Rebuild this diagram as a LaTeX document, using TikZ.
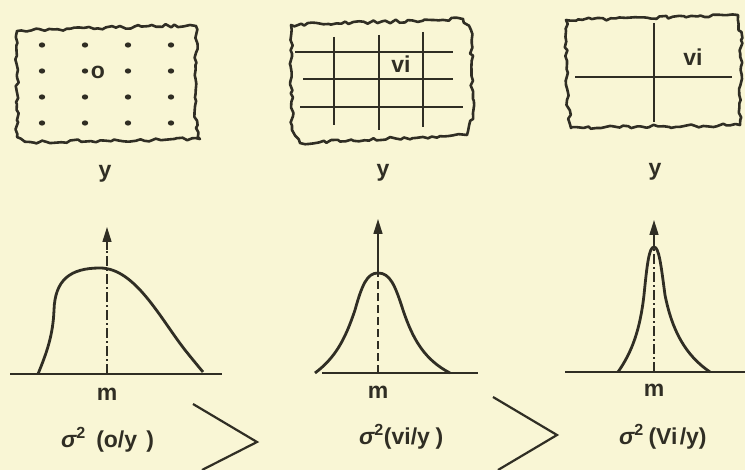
\documentclass[tikz,border=0pt]{standalone}
\usepackage{fontspec}
\setmainfont{Liberation Sans}
\usetikzlibrary{decorations.pathmorphing,arrows.meta}
\definecolor{paper}{RGB}{249,246,213}
\definecolor{ink}{RGB}{48,46,36}
\begin{document}
\begin{tikzpicture}[x=1pt,y=-1pt,
  lbl/.style={text=ink,font=\fontsize{23}{26}\selectfont\bfseries,inner sep=0pt},
  wavy/.style={draw=ink,line width=2.6pt,line join=round,decorate,
    decoration={random steps,segment length=4.5pt,amplitude=1.7pt}},
  grid/.style={draw=ink,line width=1.7pt},
  dotc/.style={fill=ink},
  base/.style={draw=ink,line width=1.6pt},
  curve/.style={draw=ink,line width=2.8pt},
  axisdd/.style={draw=ink,line width=1.5pt,dash pattern=on 10pt off 3pt on 2pt off 3pt},
  axisd/.style={draw=ink,line width=1.6pt,dash pattern=on 8pt off 4pt},
  tip/.style={-{Triangle[length=15pt,width=9pt]}},
  gt/.style={draw=ink,line width=2.2pt}]
\pgfmathsetseed{7}
\fill[paper] (0,0) rectangle (745,470);
\useasboundingbox (0,0) rectangle (745,470);

% ---------- panel 1 ----------
\begin{scope}[shift={(17,25)}]
\draw[wavy] (0,6) -- (173,0) -- (179,1) -- (179,103) -- (183,114) -- (13,117) -- (0,112) -- cycle;
\end{scope}
\foreach \xx in {42,85,128,171}
  \foreach \yy in {45,71,97,123}
    \fill[dotc] (\xx,\yy) ellipse (3.2pt and 2.6pt);
\node[lbl] (o1) at (98,72) {o};
\node[lbl] (y1) at (105,174) {y};

% ---------- panel 2 ----------
\begin{scope}[shift={(291,19)}]
\draw[wavy] (0,6) -- (172,0) -- (180,11) -- (182,94) -- (176,116) -- (9,124) -- (1,111) -- cycle;
\end{scope}
\draw[grid] (295,52) -- (453,52);
\draw[grid] (303,79) -- (453,79);
\draw[grid] (300,107) -- (463,107);
\draw[grid] (334,37) -- (334,125);
\draw[grid] (379,35) -- (379,130);
\draw[grid] (423,32) -- (423,127);
\node[lbl] (v2) at (401,64) {vi};
\node[lbl] (y2) at (383,173) {y};

% ---------- panel 3 ----------
\begin{scope}[shift={(566,15)}]
\draw[wavy] (0,5) -- (172,0) -- (175,25) -- (174,110) -- (5,113) -- (1,85) -- cycle;
\end{scope}
\draw[grid] (654,23) -- (654,122);
\draw[grid] (575,77) -- (732,77);
\node[lbl] (v3) at (693,57) {vi};
\node[lbl] (y3) at (655,172) {y};

% ---------- curve 1 ----------
\draw[base] (10,374) -- (222,374);
\draw[axisdd] (107,374) -- (107,247);
\draw[ink,line width=1.5pt,tip] (107,250) -- (107,227);
\draw[curve] (38,374) .. controls (47,352) and (53,335) .. (54,310)
  .. controls (55,280) and (70,268) .. (100,268)
  .. controls (135,268) and (160,318) .. (185,350)
  .. controls (193,360) and (198,366) .. (203,372);
\node[lbl] (m1) at (107,394) {m};
\node[lbl,anchor=west] (s1) at (61,440) {\itshape σ\textsuperscript{\upshape 2}\hspace{0.45em}\upshape (o/y\hspace{0.4em})};

% ---------- curve 2 ----------
\draw[base] (322,373) -- (478,373);
\draw[axisd] (378,373) -- (378,275);
\draw[ink,line width=1.6pt,tip] (378,275) -- (378,219);
\draw[curve] (315,373) .. controls (335,358) and (345,340) .. (355,310)
  .. controls (362,285) and (367,273) .. (378,273)
  .. controls (390,273) and (395,285) .. (403,310)
  .. controls (413,340) and (425,360) .. (450,373);
\node[lbl] (m2) at (378,392) {m};
\node[lbl,anchor=west] (s2) at (359,437) {\itshape σ\textsuperscript{\upshape 2}\upshape (vi/y\hspace{0.25em})};

% ---------- curve 3 ----------
\draw[base] (565,372) -- (745,372);
\draw[axisdd] (654,372) -- (654,243);
\draw[ink,line width=1.5pt,tip] (654,244) -- (654,220);
\draw[curve] (618,372) .. controls (632,352) and (640,330) .. (644,295)
  .. controls (647,265) and (649,247) .. (654,247)
  .. controls (659,247) and (661,265) .. (665,295)
  .. controls (672,330) and (685,355) .. (710,372);
\node[lbl] (m3) at (654,390) {m};
\node[lbl,anchor=west] (s3) at (619,437) {\itshape σ\textsuperscript{\upshape 2}\hspace{0.2em}\upshape (Vi\hspace{0.1em}/y)};

% ---------- comparison signs ----------
\coordinate (g1a) at (193,404);
\coordinate (g1b) at (257,442);
\coordinate (g1c) at (202,470);
\draw[gt] (g1a) -- (g1b) -- (g1c);
\coordinate (g2a) at (493,397);
\coordinate (g2b) at (557,435);
\coordinate (g2c) at (498,470);
\draw[gt] (g2a) -- (g2b) -- (g2c);
\end{tikzpicture}
\end{document}
